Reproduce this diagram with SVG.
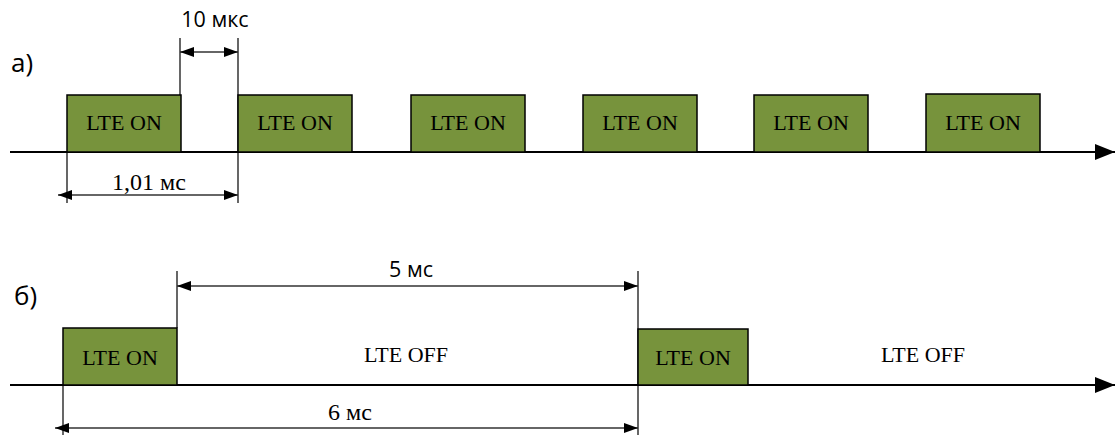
<svg xmlns="http://www.w3.org/2000/svg" width="1115" height="435" viewBox="0 0 1115 435">
<style>
.box{fill:#77933C;stroke:#000;stroke-width:1.5}
.ax{stroke:#000;stroke-width:2;fill:none}
.ln{stroke:#000;stroke-width:1.2;fill:none}
.dim{stroke:#333;stroke-width:1.3;fill:none}
.tn{font-family:"Liberation Serif",serif;font-size:22px;fill:#000;text-anchor:middle}
.td{font-family:"Liberation Serif",serif;font-size:24px;fill:#000;text-anchor:middle}
.sn{font-family:"Open Sans","Liberation Sans",sans-serif;font-size:21.5px;fill:#000;text-anchor:middle}
.lb{font-family:"Open Sans","Liberation Sans",sans-serif;font-size:26px;fill:#000}
</style>
<defs>
<marker id="ah" viewBox="0 0 14 10" refX="14" refY="5" markerWidth="14" markerHeight="10" markerUnits="userSpaceOnUse" orient="auto-start-reverse"><path d="M0,0L14,5L0,10z" fill="#000"/></marker>
<marker id="axh" viewBox="0 0 20 16" refX="20" refY="8" markerWidth="20" markerHeight="16" markerUnits="userSpaceOnUse" orient="auto"><path d="M0,0L20,8L0,16z" fill="#000"/></marker>
</defs>
<text class="lb" x="11" y="72">а)</text>
<text class="lb" x="14" y="305">б)</text>
<g id="connectors">
<line class="ax" x1="10" y1="152" x2="1115" y2="152" marker-end="url(#axh)"/>
<line class="ax" x1="10" y1="385" x2="1115" y2="385" marker-end="url(#axh)"/>
<line class="ln" x1="180" y1="38" x2="180" y2="95"/>
<line class="ln" x1="238" y1="38" x2="238" y2="203"/>
<line class="ln" x1="67" y1="152" x2="67" y2="203"/>
<line class="dim" x1="180" y1="52" x2="238" y2="52" marker-start="url(#ah)" marker-end="url(#ah)"/>
<line class="dim" x1="58" y1="195" x2="238" y2="195" marker-start="url(#ah)" marker-end="url(#ah)"/>
<line class="ln" x1="177" y1="271" x2="177" y2="328"/>
<line class="ln" x1="638" y1="271" x2="638" y2="435"/>
<line class="ln" x1="63" y1="385" x2="63" y2="435"/>
<line class="dim" x1="177" y1="286" x2="638" y2="286" marker-start="url(#ah)" marker-end="url(#ah)"/>
<line class="dim" x1="55" y1="428" x2="638" y2="428" marker-start="url(#ah)" marker-end="url(#ah)"/>
</g>
<text class="sn" x="215" y="27">10 мкс</text>
<text class="td" x="149" y="190">1,01 мс</text>
<text class="sn" x="411" y="277">5 мс</text>
<text class="td" x="350" y="420">6 мс</text>
<g id="a1"><rect class="box" x="67" y="95" width="114" height="57"/><text class="tn" x="124" y="130">LTE ON</text></g>
<g id="a2"><rect class="box" x="238" y="95" width="114" height="57"/><text class="tn" x="295" y="130">LTE ON</text></g>
<g id="a3"><rect class="box" x="411" y="95" width="114" height="57"/><text class="tn" x="468" y="130">LTE ON</text></g>
<g id="a4"><rect class="box" x="583" y="95" width="114" height="57"/><text class="tn" x="640" y="130">LTE ON</text></g>
<g id="a5"><rect class="box" x="754" y="95" width="114" height="57"/><text class="tn" x="811" y="130">LTE ON</text></g>
<g id="a6"><rect class="box" x="926" y="94" width="114" height="58"/><text class="tn" x="983" y="130">LTE ON</text></g>
<g id="b1"><rect class="box" x="63" y="328" width="114" height="57"/><text class="tn" x="120" y="365">LTE ON</text></g>
<g id="b2"><text class="tn" x="406" y="362">LTE OFF</text></g>
<g id="b3"><rect class="box" x="638" y="329" width="110" height="56"/><text class="tn" x="693" y="365">LTE ON</text></g>
<g id="b4"><text class="tn" x="923" y="362">LTE OFF</text></g>
</svg>
